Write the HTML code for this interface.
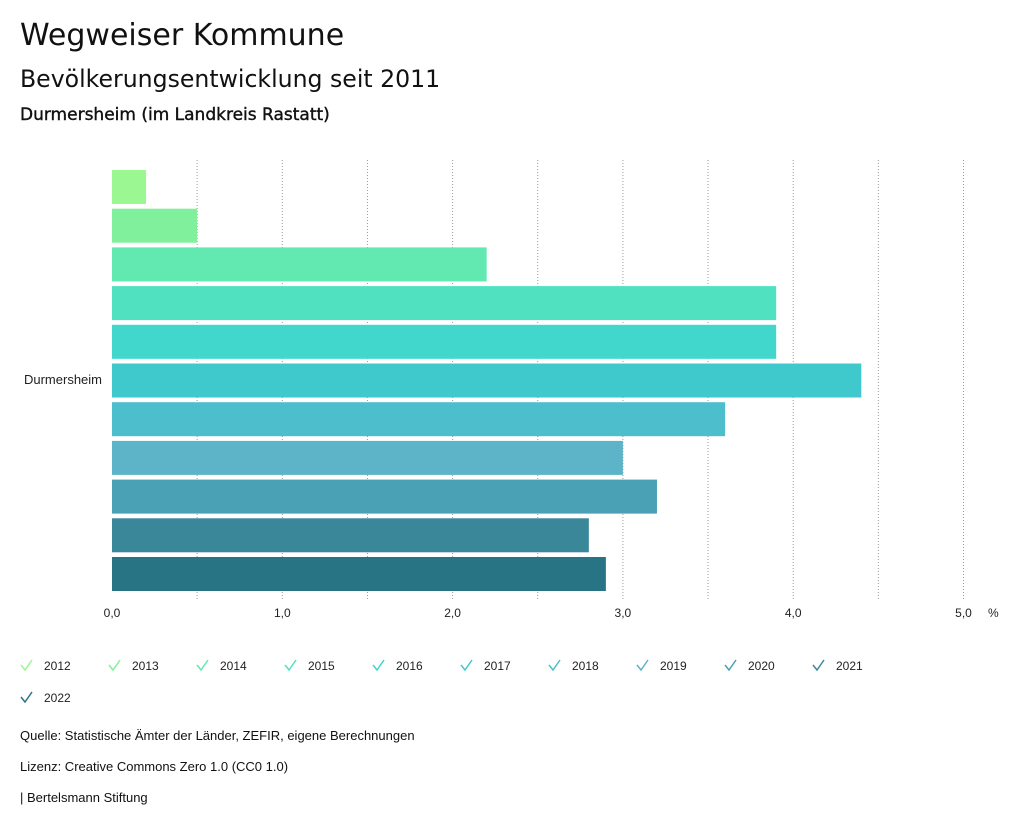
<!DOCTYPE html>
<html><head><meta charset="utf-8"><style>
body{margin:0;background:#fff;font-family:"Liberation Sans",sans-serif;color:#111}
.t{position:absolute;left:20px;white-space:nowrap}
.h{font-family:"DejaVu Sans","Liberation Sans",sans-serif}
</style></head><body>
<div style="position:relative;width:1024px;height:831px;overflow:hidden">
<div class="t h" style="top:18px;font-size:30px">Wegweiser Kommune</div>
<div class="t h" style="top:65px;font-size:23.6px">Bevölkerungsentwicklung seit 2011</div>
<div class="t h" style="top:105px;font-size:17px;-webkit-text-stroke:0.4px #111">Durmersheim (im Landkreis Rastatt)</div>
<svg id="ch" width="1024" height="831" style="position:absolute;left:0;top:0"></svg>
<div class="t" style="top:728px;font-size:13px">Quelle: Statistische Ämter der Länder, ZEFIR, eigene Berechnungen</div>
<div class="t" style="top:759px;font-size:13px">Lizenz: Creative Commons Zero 1.0 (CC0 1.0)</div>
<div class="t" style="top:790px;font-size:13px">| Bertelsmann Stiftung</div>
</div>
<script>
const years=["2012","2013","2014","2015","2016","2017","2018","2019","2020","2021","2022"];
const values=[0.2,0.5,2.2,3.9,3.9,4.4,3.6,3.0,3.2,2.8,2.9];
const colors=["#9af792","#80f09c","#62e9b1","#50e1c1","#42d7cc","#40c9cd","#4dbfcc","#5db3c7","#4aa0b4","#3a879a","#287384"];
const ticks=[0,1,2,3,4,5];
const tickLabels=["0,0","1,0","2,0","3,0","4,0","5,0"];
const NS="http://www.w3.org/2000/svg",svg=document.getElementById('ch');
const x=v=>112+v*170.3, y=i=>170+i*38.7;
function mk(t,a){const e=document.createElementNS(NS,t);for(const k in a)e.setAttribute(k,a[k]);svg.appendChild(e);return e;}
for(let g=0.5;g<=5.01;g+=0.5){const l=mk('line',{x1:x(g),x2:x(g),y1:160,y2:600,stroke:'#999','stroke-dasharray':'1,2','stroke-width':1});

}
values.forEach((v,i)=>{const r=mk('rect',{x:x(0),y:y(i),width:x(v)-x(0),height:34,fill:colors[i]});

});
ticks.forEach((t,i)=>{const e=mk('text',{x:x(t),y:617,'text-anchor':'middle','font-size':12,fill:'#222'});e.textContent=tickLabels[i];

});
let u=mk('text',{x:988,y:617,'font-size':12,fill:'#222'});u.textContent='%';


let c=mk('text',{x:102,y:384,'text-anchor':'end','font-size':13,fill:'#222'});c.textContent='Durmersheim';


years.forEach((yr,i)=>{const col=i%10,row=Math.floor(i/10);const lx=20+col*88,ly=665+row*32;
const g=mk('g',{});


const p=document.createElementNS(NS,'path');p.setAttribute('d',`M${lx+1} ${ly} L${lx+5} ${ly+5} L${lx+12} ${ly-5}`);p.setAttribute('stroke',colors[i]);p.setAttribute('fill','none');p.setAttribute('stroke-width','1.5');g.appendChild(p);
const t=document.createElementNS(NS,'text');t.setAttribute('x',lx+24);t.setAttribute('y',ly+5);t.setAttribute('font-size','12');t.setAttribute('fill','#222');t.textContent=yr;g.appendChild(t);});
</script>
</body></html>
